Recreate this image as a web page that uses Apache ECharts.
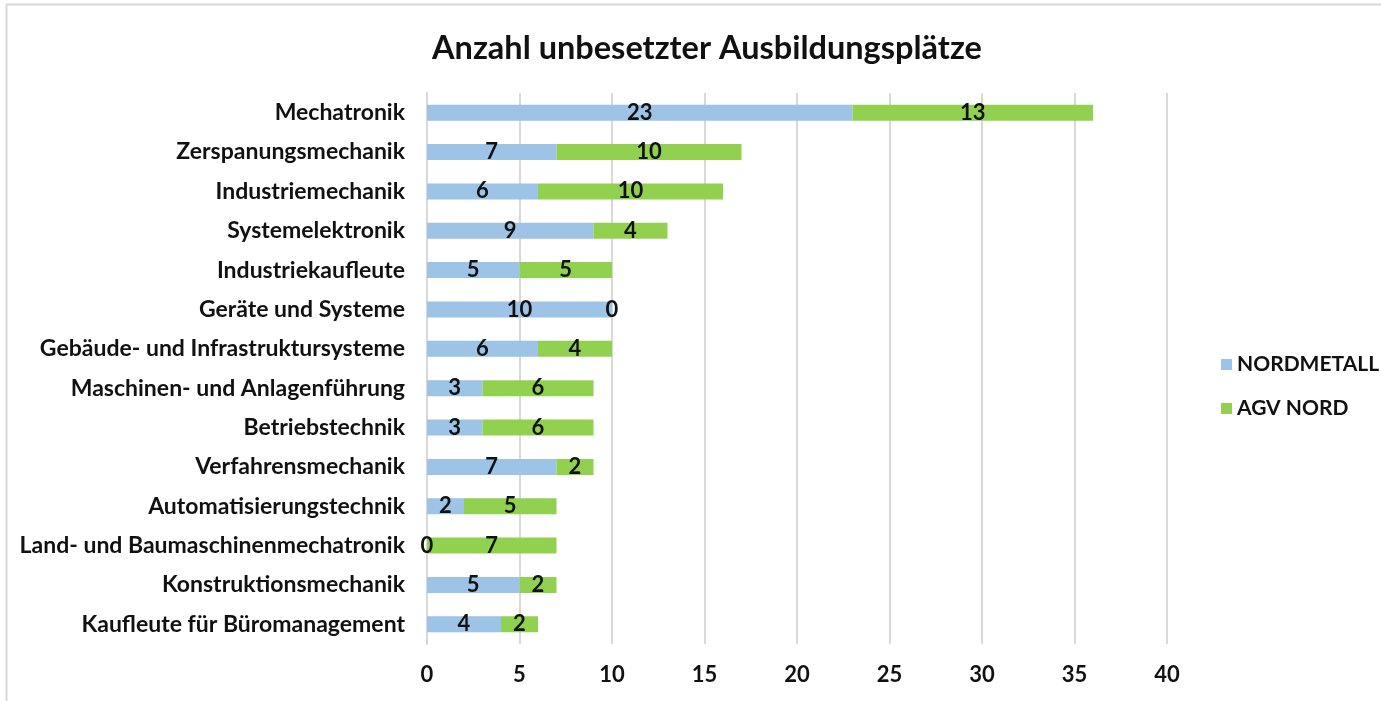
<!DOCTYPE html>
<html>
<head>
<meta charset="utf-8">
<script src="https://cdn.jsdelivr.net/npm/echarts@6/dist/echarts.min.js"></script>
<style>
  html, body { margin: 0; padding: 0; background: #fff; }
  #main { width: 1381px; height: 701px; }
</style>
</head>
<body>
<div id="main"></div>
<script>
// Kategorien von oben nach unten
var categories = [
    'Mechatronik',
    'Zerspanungsmechanik',
    'Industriemechanik',
    'Systemelektronik',
    'Industriekaufleute',
    'Geräte und Systeme',
    'Gebäude- und Infrastruktursysteme',
    'Maschinen- und Anlagenführung',
    'Betriebstechnik',
    'Verfahrensmechanik',
    'Automatisierungstechnik',
    'Land- und Baumaschinenmechatronik',
    'Konstruktionsmechanik',
    'Kaufleute für Büromanagement'
];
var nordmetall = [23, 7, 6, 9, 5, 10, 6, 3, 3, 7, 2, 0, 5, 4];
var agvNord = [13, 10, 10, 4, 5, 0, 4, 6, 6, 2, 5, 7, 2, 2];
var xTicks = [0, 5, 10, 15, 20, 25, 30, 35, 40];

var font = 'Lato, "Open Sans", sans-serif';

var myChart = echarts.init(document.getElementById('main'));

var barLabel = {
    show: true,
    position: 'inside',
    color: '#111',
    fontFamily: font,
    fontWeight: 'bold',
    fontSize: 22
};

myChart.setOption({
    animation: false,
    color: ['#9dc3e6', '#92d050'],
    title: {
        text: 'Anzahl unbesetzter Ausbildungsplätze',
        left: 702,
        textAlign: 'center',
        top: 27,
        textStyle: { fontFamily: font, fontWeight: 'bold', fontSize: 32.5, color: '#111' }
    },
    graphic: [{
        type: 'rect',
        shape: { x: 6.5, y: 4.5, width: 1400, height: 720 },
        style: { fill: 'none', stroke: '#d9d9d9', lineWidth: 2 },
        silent: true
    }],
    legend: {
        orient: 'vertical',
        left: 1216,
        top: 349,
        itemWidth: 11,
        itemHeight: 11,
        itemGap: 23,
        icon: 'rect',
        data: ['NORDMETALL', 'AGV NORD'],
        textStyle: { fontFamily: font, fontWeight: 'bold', fontSize: 21, color: '#111' }
    },
    grid: { left: 427, right: 214, top: 93, bottom: 57 },
    xAxis: {
        type: 'value',
        min: xTicks[0],
        max: xTicks[xTicks.length - 1],
        interval: 5,
        axisLine: { show: false },
        axisTick: { show: false },
        splitLine: { lineStyle: { color: '#d9d9d9', width: 2 } },
        axisLabel: { margin: 20, color: '#111', fontFamily: font, fontWeight: 'bold', fontSize: 22 }
    },
    yAxis: {
        type: 'category',
        inverse: true,
        data: categories,
        axisLine: { show: true, lineStyle: { color: '#d9d9d9', width: 2 } },
        axisTick: { show: false },
        axisLabel: { margin: 22, color: '#111', fontFamily: font, fontWeight: 'bold', fontSize: 23 }
    },
    series: [
        {
            name: 'NORDMETALL',
            type: 'bar',
            stack: 'gesamt',
            barWidth: 16,
            data: nordmetall,
            label: barLabel
        },
        {
            name: 'AGV NORD',
            type: 'bar',
            stack: 'gesamt',
            barWidth: 16,
            data: agvNord,
            label: barLabel
        }
    ]
});
</script>
</body>
</html>
